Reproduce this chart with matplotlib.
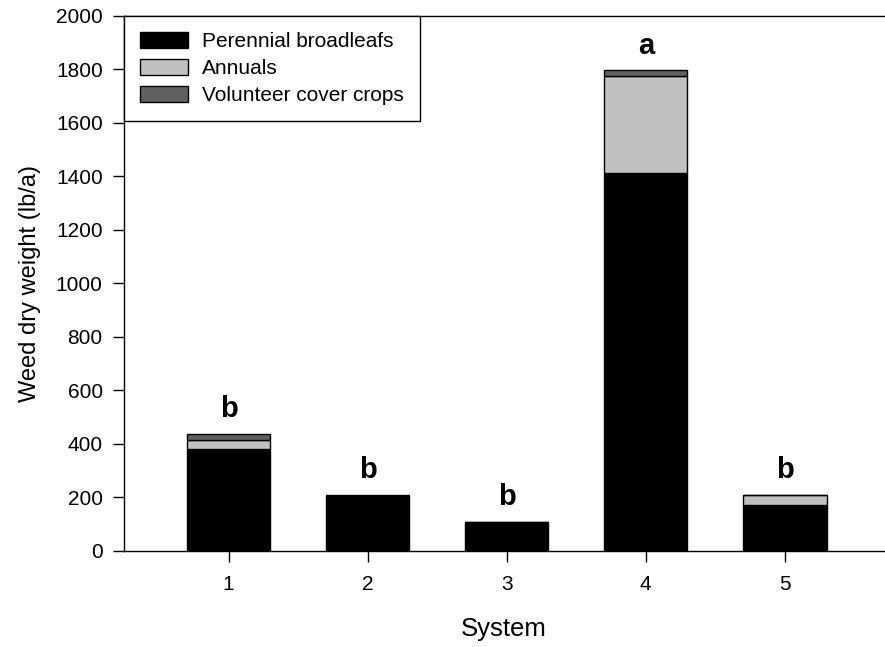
import matplotlib
matplotlib.use("Agg")
import matplotlib.pyplot as plt
import numpy as np

systems = [1, 2, 3, 4, 5]
perennial = [382, 202, 105, 1411, 172]
annuals = [34, 4, 2, 362, 39]
volunteer = [21, 5, 1, 22, 0]
letters = ["b", "b", "b", "a", "b"]
series_names = ["Perennial broadleafs", "Annuals", "Volunteer cover crops"]
yticks = [0, 200, 400, 600, 800, 1000, 1200, 1400, 1600, 1800, 2000]

plt.rcParams['font.family'] = ['Liberation Sans', 'DejaVu Sans']

W, H = 885, 647
fig = plt.figure(figsize=(W / 100, H / 100), dpi=100)
ax = fig.add_axes([123.5 / W, (H - 551) / H, (W - 123.5) / W, (551 - 15.5) / H])

x = np.array(systems, dtype=float)
p = np.array(perennial, dtype=float)
a = np.array(annuals, dtype=float)
v = np.array(volunteer, dtype=float)
width = 0.60
ax.bar(x, p, width, color='black', edgecolor='black', linewidth=1, label=series_names[0])
ax.bar(x, a, width, bottom=p, color='#c0c0c0', edgecolor='black', linewidth=1, label=series_names[1])
ax.bar(x, v, width, bottom=p + a, color='#606060', edgecolor='black', linewidth=1, label=series_names[2])

totals = p + a + v
for xi, t, lab in zip(x, totals, letters):
    ax.text(xi, t + 62, lab, ha='center', va='baseline', fontsize=21, fontweight='bold')

ax.set_xlim(0.245, 5.72)
ax.set_ylim(0, 2000)
ax.set_xticks(systems)
ax.set_yticks(yticks)
ax.tick_params(axis='both', direction='out', length=8, width=1, labelsize=15)
ax.tick_params(axis='y', pad=7)
ax.tick_params(axis='x', pad=9)
ax.spines['right'].set_visible(False)
for s in ['left', 'bottom', 'top']:
    ax.spines[s].set_linewidth(1)

ax.set_xlabel('System', fontsize=18.5, labelpad=17)
ax.set_ylabel('Weed dry weight (lb/a)', fontsize=17, labelpad=11)

leg = ax.legend(loc='upper left', bbox_to_anchor=(0, 1), borderaxespad=0, fontsize=15,
                frameon=True, fancybox=False, edgecolor='black', framealpha=1,
                handlelength=2.3, handleheight=0.8, handletextpad=0.65,
                labelspacing=0.36, borderpad=0.8)
leg.get_frame().set_linewidth(1)

fig.savefig('out.png', dpi=100)
